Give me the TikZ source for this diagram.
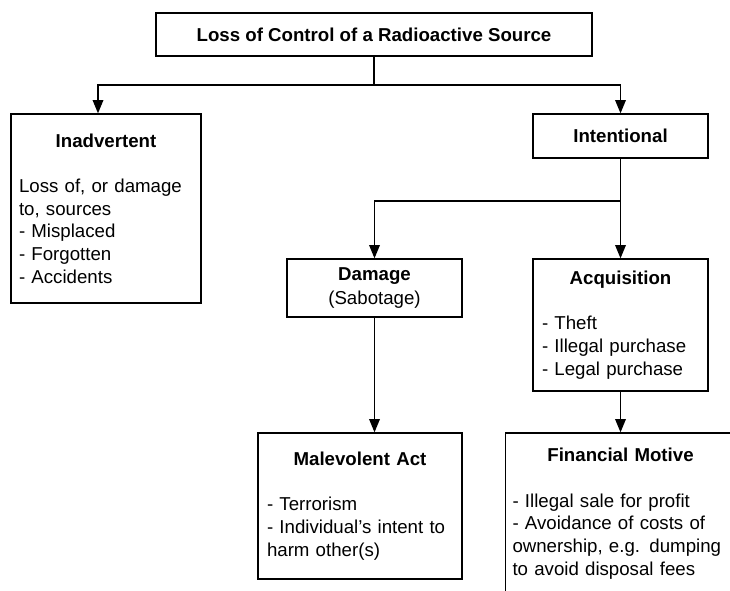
\documentclass[tikz,border=0pt]{standalone}
\usepackage{fontspec}
\setmainfont{Liberation Sans}
\usepackage{tikz}
\usetikzlibrary{positioning,arrows.meta}
\newcommand{\boxhead}[1]{{\centering\bfseries #1\par}\vspace{\baselineskip}}

\begin{document}
\begin{tikzpicture}[x=0.75pt, y=-0.75pt,
  every node/.style={font=\fontsize{14}{17}\selectfont},
  box/.style={draw, line width=1pt, rectangle, inner ysep=4pt},
  listbox/.style={box, align=left},
  link/.style={line width=1pt},
  arrow/.style={link, -{Triangle[length=10pt, width=8pt]}}]
  \useasboundingbox (0,0) rectangle (730,590);
  \clip (0,0) rectangle (730,590);

  % ---- Top: the loss of control ----
  \node[box, minimum width=327pt, minimum height=32.25pt] (loss) at (374,34.5)
    {\bfseries Loss of Control of a Radioactive Source};

  % ---- Left: inadvertent ----
  \node[listbox, text width=130.5pt, inner xsep=6pt, minimum height=141.75pt] (inadv) at (106,208.5)
    {\boxhead{Inadvertent}Loss of, or damage\\ to, sources\\ - Misplaced\\ - Forgotten\\ - Accidents};

  % ---- Right: intentional and its branches ----
  \node[box, minimum width=131.25pt, minimum height=33pt] (intent) at (620.5,136)
    {\bfseries Intentional};
  \node[box, align=center, minimum width=131.25pt, minimum height=43.5pt] (damage) at (374.5,288)
    {\textbf{Damage}\\[1.5pt] (Sabotage)};
  \node[listbox, text width=117.75pt, inner xsep=6.75pt, minimum height=99pt] (acq) at (620.5,325)
    {\boxhead{Acquisition}- Theft\\ - Illegal purchase\\ - Legal purchase};

  % ---- Bottom: motives ----
  \node[listbox, text width=139.5pt, inner xsep=6.75pt, minimum height=109.5pt] (malev) at (360,506)
    {\boxhead{Malevolent Act}- Terrorism\\ - Individual's intent to\\ harm other(s)};
  \node[listbox, text width=162pt, inner xsep=5.25pt, minimum height=120.75pt] (fin) at (620.5,513.5)
    {\boxhead{Financial Motive}- Illegal sale for profit\\ - Avoidance of costs of\\ ownership, e.g. dumping\\ to avoid disposal fees};

  % Connectors
  \coordinate (split) at (374,85);
  \coordinate (fork) at (620.5,201);
  \draw[link] (loss.south) -- (split);
  \draw[arrow] (split) -| ([xshift=-6pt]inadv.north);
  \draw[arrow] (split) -| (intent.north);
  \draw[arrow] (intent.south) -- (acq.north);
  \draw[arrow] (fork) -| (damage.north);
  \draw[arrow] (damage.south) -- (damage.south |- malev.north);
  \draw[arrow] (acq.south) -- (fin.north);
\end{tikzpicture}
\end{document}
